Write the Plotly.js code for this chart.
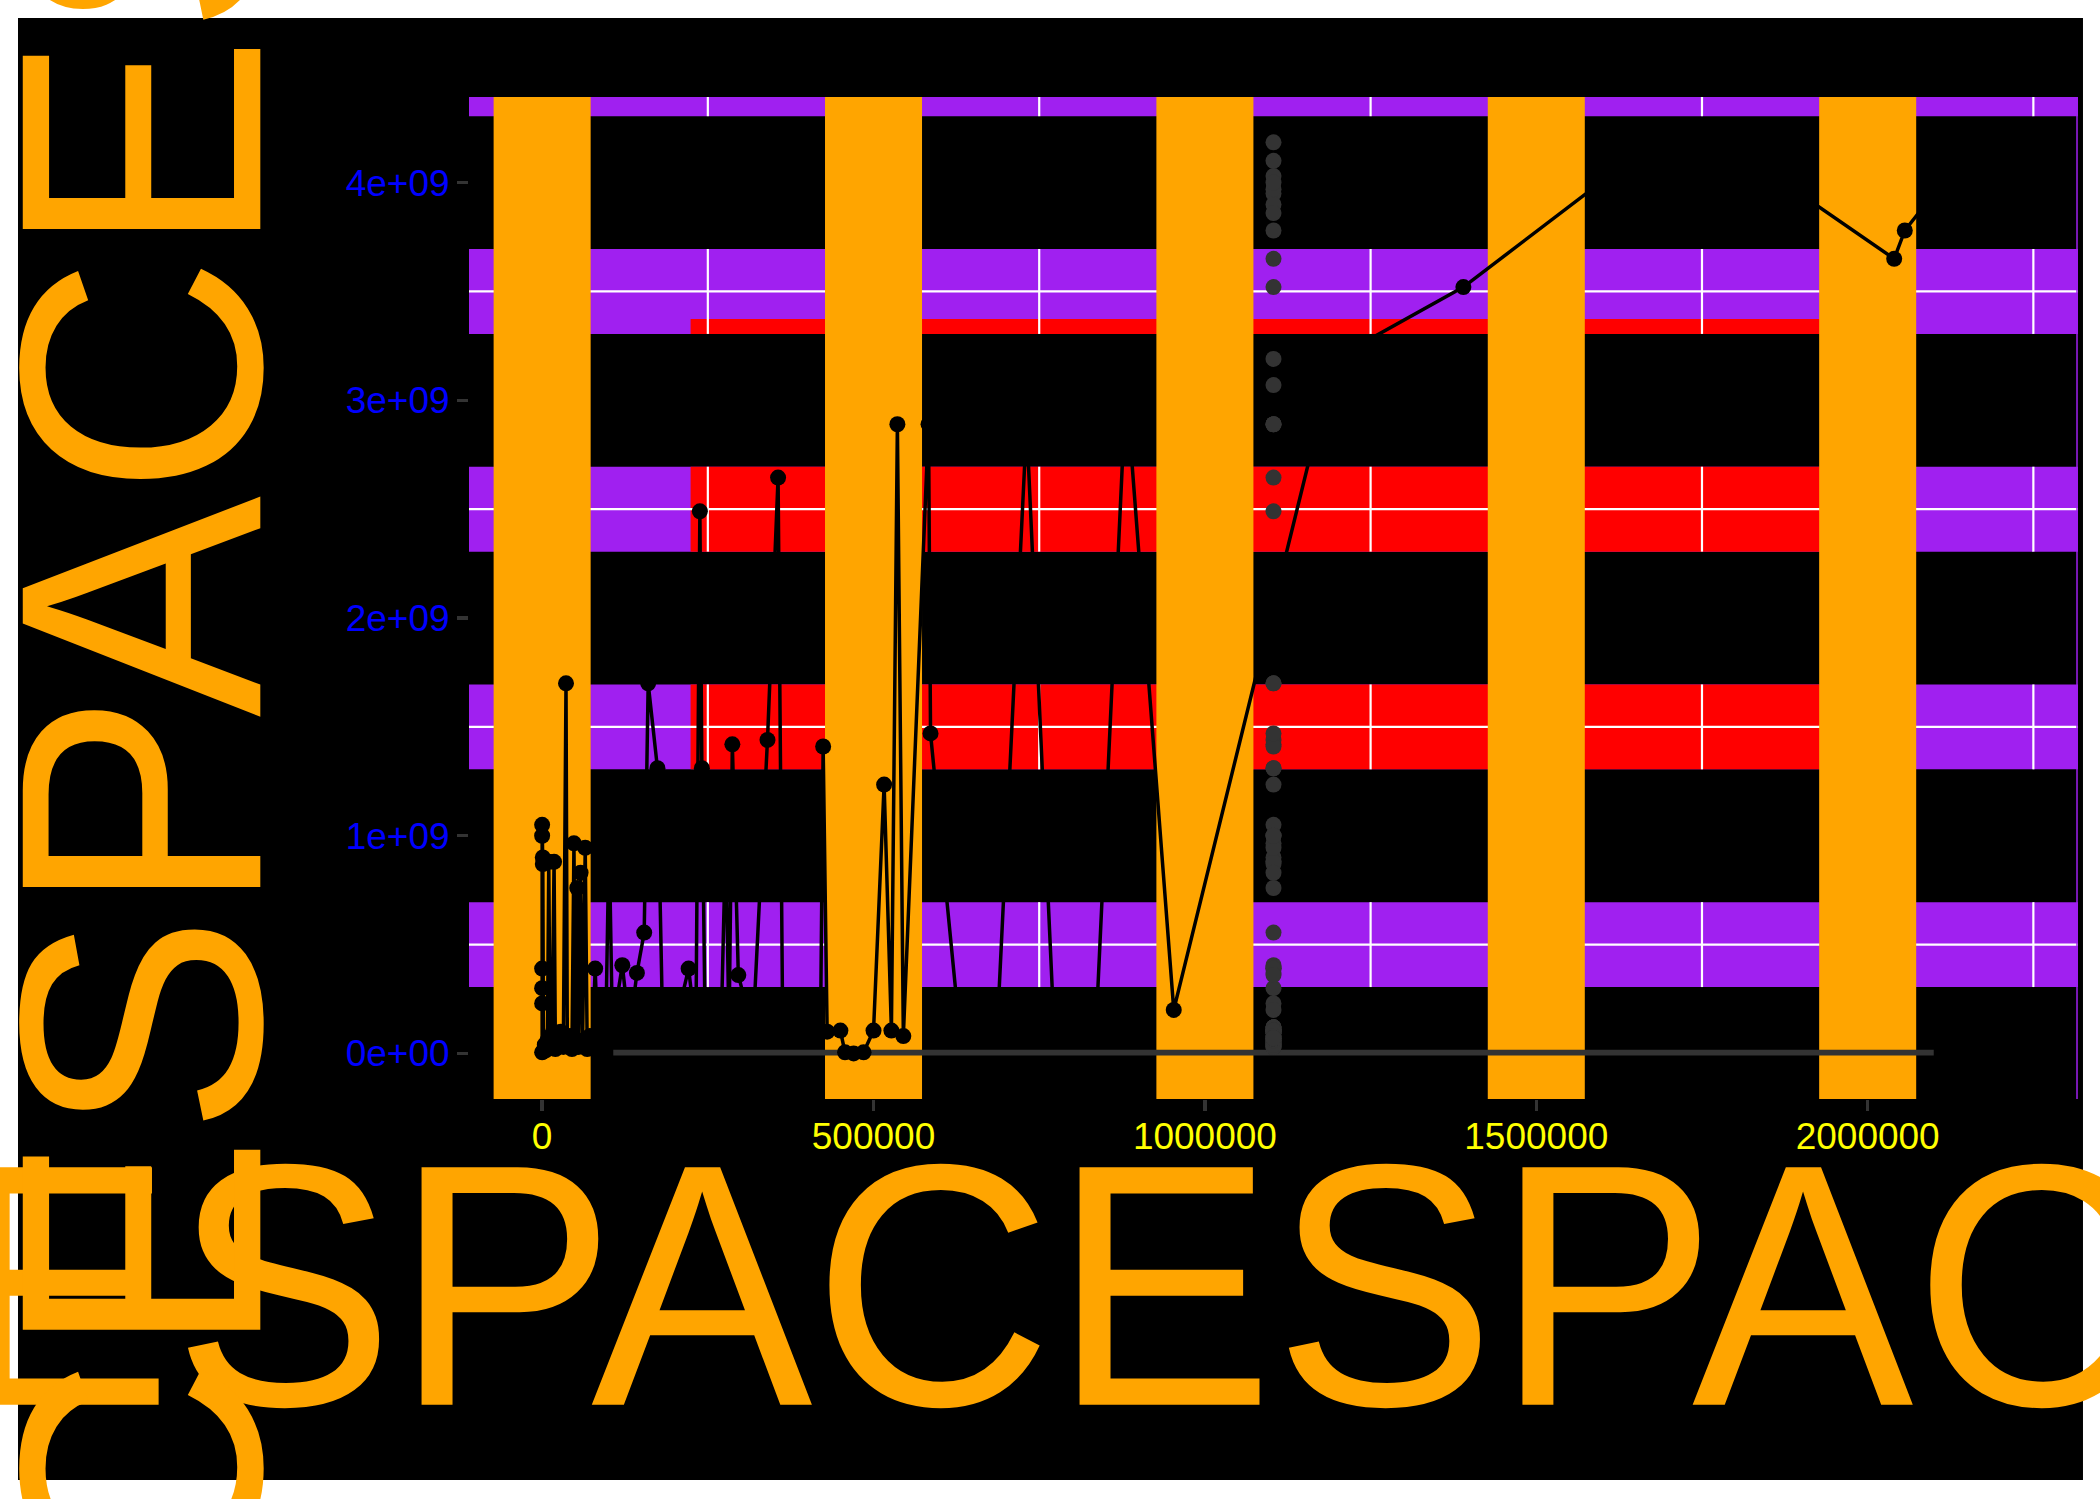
<!DOCTYPE html>
<html>
<head>
<meta charset="utf-8">
<script src="https://cdn.plot.ly/plotly-3.0.1.min.js"></script>
<style>
html, body { margin: 0; padding: 0; background: #ffffff; }
#chart { width: 2100px; height: 1499px; }
</style>
</head>
<body>
<div id="chart"></div>
<script>
// ---------------- data ----------------
const seriesX = [
  0, 0, 0, 0, 0, 0, 1000, 1000, 2000, 4000,
  6000, 8000, 10000, 12000, 15000, 18000, 20000, 24000, 28000, 32000,
  36000, 38000, 42000, 45000, 48000, 50000, 53000, 55000, 58000, 61000,
  65000, 68000, 72000, 76000, 80000, 84000, 88000, 96000, 101000, 106000,
  121000, 132000, 143000, 154000, 160000, 174000, 182000, 200000, 221000, 232000,
  238000, 241000, 246000, 270000, 277000, 282000, 287000, 296000, 318000, 340000,
  356000, 363000, 395000, 420000, 424000, 430000, 450000, 457000, 470000, 485000,
  500000, 516000, 527000, 536000, 545000, 583000, 586000, 631000, 686000, 731000,
  773000, 835000, 881000, 953000, 1195000, 1390000, 1640000, 1785000, 2040000, 2056000,
  2100000, 2120000, 2150000, 2170000, 2190000, 2207000
];
const seriesY = [
  0.005e9, 0.23e9, 0.30e9, 0.39e9, 1.00e9, 1.05e9, 0.90e9, 0.87e9, 0.01e9, 0.04e9,
  0.015e9, 0.06e9, 0.88e9, 0.03e9, 0.09e9, 0.88e9, 0.02e9, 0.05e9, 0.10e9, 0.03e9,
  1.70e9, 0.04e9, 0.08e9, 0.02e9, 0.965e9, 0.05e9, 0.76e9, 0.03e9, 0.83e9, 0.06e9,
  0.945e9, 0.02e9, 0.08e9, 0.04e9, 0.39e9, 0.06e9, 0.10e9, 0.10e9, 1.00e9, 0.12e9,
  0.405e9, 0.10e9, 0.37e9, 0.555e9, 1.70e9, 1.31e9, 0.10e9, 0.12e9, 0.39e9, 0.10e9,
  2.49e9, 1.31e9, 0.12e9, 0.10e9, 1.00e9, 0.10e9, 1.42e9, 0.36e9, 0.10e9, 1.44e9,
  2.645e9, 0.10e9, 0.12e9, 0.10e9, 1.41e9, 0.10e9, 0.105e9, 0.005e9, 0.0, 0.005e9,
  0.105e9, 1.235e9, 0.105e9, 2.89e9, 0.08e9, 2.89e9, 1.47e9, 0.07e9, 0.07e9, 2.89e9,
  0.07e9, 0.07e9, 3.07e9, 0.20e9, 3.19e9, 3.52e9, 4.10e9, 4.185e9, 3.65e9, 3.78e9,
  3.95e9, 3.90e9, 3.86e9, 3.97e9, 4.03e9, 4.00e9
];

// boxplot summary of all y values (single group)
const boxCenter = [1103500];
const boxWidth = 1986300;
const boxQ1 = [0];
const boxMedian = [2e6];
const boxQ3 = [8e6];
const boxLowerFence = [0];
const boxUpperFence = [2e7];

// axes
const xRange = [-110350, 2317350];
const yRange = [-209200000, 4393200000];
const xTickVals = [0, 500000, 1000000, 1500000, 2000000];
const xTickText = ['0', '500000', '1000000', '1500000', '2000000'];
const yTickVals = [0, 1e9, 2e9, 3e9, 4e9];
const yTickText = ['0e+00', '1e+09', '2e+09', '3e+09', '4e+09'];
const xMinorBreaks = [250000, 750000, 1250000, 1750000, 2250000];
const yMinorBreaks = [0.5e9, 1.5e9, 2.5e9, 3.5e9, 4.5e9];

// red rectangle region (visible only inside the minor-grid bands)
const redRegion = { x0: 224000, x1: 2000000, y0: 1.0e9, y1: 3.374e9 };

// titles
const xTitleText = 'SPACESPACESPACESPACE';
const yTitleText = 'SPACESPACESPACE';

// ---------------- styles ----------------
const FONT = 'Liberation Sans, Arial, sans-serif';
const ORANGE = '#FFA500';
const PURPLE = '#A020F0';
const RED = '#FF0000';
const bandHalf = 0.195e9;      // half-height of purple minor y grid bands
const barHalf = 73200;         // half-width of orange major x grid bars
const capStretch = 1.04;       // title glyphs are a little taller in the reference

// ---------------- shapes (grid decorations) ----------------
const shapes = [];
shapes.push({type: 'rect', xref: 'paper', yref: 'paper', x0: -0.2803, x1: 1.0031, y0: -0.3802, y1: 1.0788,
  fillcolor: '#000000', line: {width: 0}, layer: 'below'});
yMinorBreaks.forEach(function (c) {
  shapes.push({type: 'rect', xref: 'x', yref: 'y', x0: xRange[0] - 1e6, x1: xRange[1] + 1e6,
    y0: c - bandHalf, y1: c + bandHalf, fillcolor: PURPLE, line: {width: 0}, layer: 'below'});
});
yMinorBreaks.forEach(function (c) {
  const lo = Math.max(c - bandHalf, redRegion.y0);
  const hi = Math.min(c + bandHalf, redRegion.y1);
  if (hi > lo) {
    shapes.push({type: 'rect', xref: 'x', yref: 'y', x0: redRegion.x0, x1: redRegion.x1,
      y0: lo, y1: hi, fillcolor: RED, line: {width: 0}, layer: 'below'});
  }
});
yMinorBreaks.forEach(function (c) {
  shapes.push({type: 'line', xref: 'x', yref: 'y', x0: xRange[0] - 1e6, x1: xRange[1] + 1e6,
    y0: c, y1: c, line: {color: '#FFFFFF', width: 2.2}, layer: 'below'});
});
xMinorBreaks.forEach(function (xv) {
  yMinorBreaks.forEach(function (c) {
    shapes.push({type: 'line', xref: 'x', yref: 'y', x0: xv, x1: xv,
      y0: c - bandHalf, y1: c + bandHalf, line: {color: '#FFFFFF', width: 2.2}, layer: 'below'});
  });
});
xTickVals.forEach(function (xv) {
  shapes.push({type: 'rect', xref: 'x', yref: 'y', x0: xv - barHalf, x1: xv + barHalf,
    y0: yRange[0] - 1e9, y1: yRange[1] + 1e9, fillcolor: ORANGE, line: {width: 0}, layer: 'below'});
});
shapes.push({type: 'line', xref: 'x', yref: 'y', x0: xRange[1] - 1500, x1: xRange[1] - 1500,
  y0: yRange[0], y1: yRange[1], line: {color: PURPLE, width: 1.5}, layer: 'below'});

// ---------------- traces ----------------
const outY = seriesY.filter(function (v) { return v > boxUpperFence[0]; });
const outX = outY.map(function () { return boxCenter[0]; });

const traces = [
  {
    type: 'box', x: boxCenter, q1: boxQ1, median: boxMedian, q3: boxQ3,
    lowerfence: boxLowerFence, upperfence: boxUpperFence,
    width: boxWidth, boxpoints: false, whiskerwidth: 0,
    line: {color: '#333333', width: 4}, fillcolor: '#FFFFFF',
    hoverinfo: 'skip', showlegend: false
  },
  {
    type: 'scatter', mode: 'markers', x: outX, y: outY,
    marker: {color: '#333333', size: 16, line: {width: 0}},
    hoverinfo: 'skip', showlegend: false
  },
  {
    type: 'scatter', mode: 'lines+markers', x: seriesX, y: seriesY,
    line: {color: '#000000', width: 3.5},
    marker: {color: '#000000', size: 16, line: {width: 0}},
    hoverinfo: 'skip', showlegend: false
  }
];

const layout = {
  width: 2100, height: 1499,
  margin: {l: 469, r: 22, t: 97, b: 400, pad: 0},
  paper_bgcolor: '#FFFFFF',
  plot_bgcolor: 'rgba(0,0,0,0)',
  showlegend: false,
  font: {family: FONT},
  xaxis: {
    range: xRange, showgrid: false, zeroline: false, showline: false,
    tickmode: 'array', tickvals: xTickVals, ticktext: xTickText,
    ticks: 'outside', ticklen: 11, tickwidth: 3.5, tickcolor: '#333333',
    ticklabelstandoff: -6,
    tickfont: {family: FONT, size: 37, color: '#FFFF00'}
  },
  yaxis: {
    range: yRange, showgrid: false, zeroline: false, showline: false,
    tickmode: 'array', tickvals: yTickVals, ticktext: yTickText,
    ticks: 'outside', ticklen: 11, tickwidth: 3.5, tickcolor: '#333333',
    tickfont: {family: FONT, size: 37, color: '#0000FF'}
  },
  shapes: shapes,
  annotations: [
    {
      text: xTitleText, xref: 'paper', yref: 'paper', x: 0.5, y: -0.1881,
      xanchor: 'center', yanchor: 'middle', showarrow: false,
      font: {family: FONT, size: 332, color: ORANGE}
    },
    {
      text: yTitleText, xref: 'paper', yref: 'paper', x: -0.2023, y: 0.513,
      xanchor: 'center', yanchor: 'middle', showarrow: false, textangle: -90,
      font: {family: FONT, size: 332, color: ORANGE}
    }
  ]
};

Plotly.newPlot('chart', traces, layout, {staticPlot: true, displayModeBar: false}).then(function () {
  try {
    document.querySelectorAll('#chart .annotation-text').forEach(function (t) {
      const b = t.getBBox();
      const cx = b.x + b.width / 2;
      const cy = b.y + b.height * 0.69;
      t.setAttribute('transform', 'translate(' + cx + ',' + cy + ') scale(1,' + capStretch + ') translate(' + (-cx) + ',' + (-cy) + ')');
    });
  } catch (e) { /* keep default rendering */ }
});
</script>
</body>
</html>
